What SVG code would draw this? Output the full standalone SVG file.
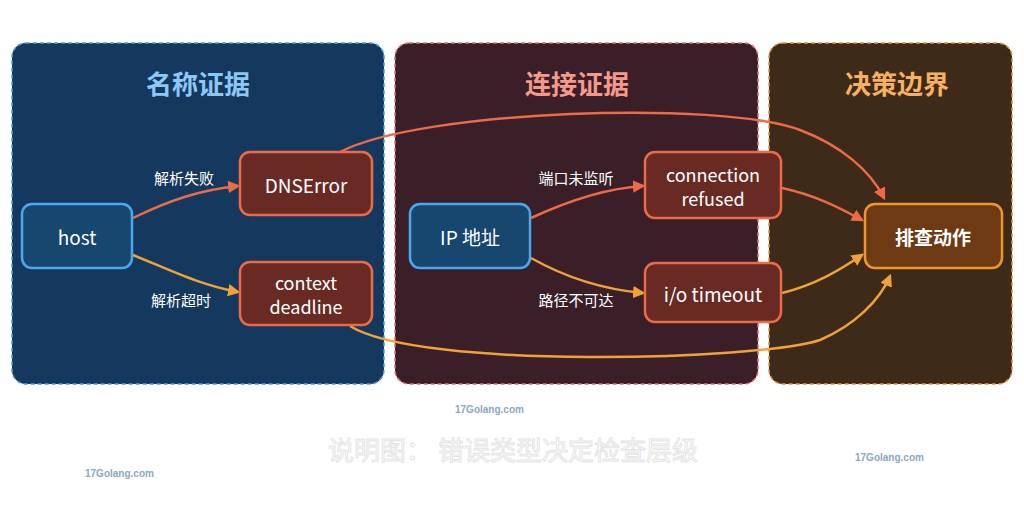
<svg xmlns="http://www.w3.org/2000/svg" width="1024" height="512" viewBox="0 0 1024 512">
<style>
text{font-family:"Noto Sans CJK SC","Noto Sans",sans-serif;text-anchor:middle;dominant-baseline:central}
.t{font-size:26px;font-weight:bold}
.n{font-size:19px;fill:#fff}
.n2{font-size:18px;fill:#fff}
.l{font-size:15px;fill:#fff}
.e{fill:none;stroke-width:2.5}
.r{stroke:#ec6a45}.o{stroke:#f0a238}
.wm{font-family:"Liberation Sans",sans-serif;font-size:10px;font-weight:bold;fill:#8aa8c0;text-anchor:start}
</style>
<defs>
<marker id="ar" viewBox="0 0 10 10" refX="8" refY="5" markerWidth="5" markerHeight="5" orient="auto"><path d="M0,0L10,5L0,10z" fill="#ec6a45"/></marker>
<marker id="ao" viewBox="0 0 10 10" refX="8" refY="5" markerWidth="5" markerHeight="5" orient="auto"><path d="M0,0L10,5L0,10z" fill="#f0a238"/></marker>
</defs>
<rect width="1024" height="512" fill="#fff"/>
<g id="panel-name"><rect x="12" y="43" width="372" height="341" rx="14" fill="#14385e" stroke="#4a9ee0" stroke-width="1.5" stroke-dasharray="4 3"/><text class="t" x="198" y="82" fill="#8cc8f5">名称证据</text></g>
<g id="panel-conn"><rect x="395" y="43" width="363" height="341" rx="14" fill="#3a1e28" stroke="#e07070" stroke-width="1.5" stroke-dasharray="4 3"/><text class="t" x="577" y="82" fill="#f59a8a">连接证据</text></g>
<g id="panel-decide"><rect x="769" y="43" width="243" height="341" rx="14" fill="#3e2a18" stroke="#e89040" stroke-width="1.5" stroke-dasharray="4 3"/><text class="t" x="897" y="82" fill="#f5b060">决策边界</text></g>
<g id="edges">
<path class="e r" d="M133,218 C170,200 200,190 238,186" marker-end="url(#ar)"/>
<path class="e o" d="M133,255 C170,270 200,285 238,292" marker-end="url(#ao)"/>
<path class="e r" d="M340,152 C420,110 720,100 800,130 C840,145 870,170 884,198" marker-end="url(#ar)"/>
<path class="e o" d="M350,326 C420,370 760,360 820,340 C855,325 880,300 890,276" marker-end="url(#ao)"/>
<path class="e r" d="M531,218 C570,200 610,188 643,186" marker-end="url(#ar)"/>
<path class="e o" d="M531,258 C570,280 610,290 643,293" marker-end="url(#ao)"/>
<path class="e r" d="M782,188 C815,195 840,208 862,220" marker-end="url(#ar)"/>
<path class="e o" d="M782,293 C815,285 840,270 862,255" marker-end="url(#ao)"/>
<text class="l" x="184" y="177">解析失败</text>
<text class="l" x="181" y="299">解析超时</text>
<text class="l" x="576" y="177">端口未监听</text>
<text class="l" x="576" y="299">路径不可达</text>
</g>
<g id="host"><rect x="22" y="204" width="110" height="64" rx="10" fill="#17466f" stroke="#4aa8ee" stroke-width="2.5"/><text class="n" x="77" y="236">host</text></g>
<g id="dns"><rect x="240" y="152" width="132" height="63" rx="10" fill="#6a2a24" stroke="#ec6a45" stroke-width="2.5"/><text class="n" x="306" y="184">DNSError</text></g>
<g id="ctx"><rect x="240" y="262" width="132" height="63" rx="10" fill="#6a2a24" stroke="#ec6a45" stroke-width="2.5"/><text class="n2" x="306" y="282">context</text><text class="n2" x="306" y="306">deadline</text></g>
<g id="ip"><rect x="410" y="204" width="120" height="64" rx="10" fill="#17466f" stroke="#4aa8ee" stroke-width="2.5"/><text class="n" x="470" y="236">IP 地址</text></g>
<g id="refused"><rect x="645" y="152" width="136" height="66" rx="10" fill="#6a2a24" stroke="#ec6a45" stroke-width="2.5"/><text class="n2" x="713" y="174">connection</text><text class="n2" x="713" y="198">refused</text></g>
<g id="timeout"><rect x="645" y="263" width="136" height="59" rx="10" fill="#6a2a24" stroke="#ec6a45" stroke-width="2.5"/><text class="n" x="713" y="293">i/o timeout</text></g>
<g id="action"><rect x="865" y="204" width="137" height="64" rx="10" fill="#6e3a14" stroke="#f0962e" stroke-width="2.5"/><text class="n" x="933" y="236" font-weight="bold">排查动作</text></g>
<text x="513" y="448" font-size="26" fill="#fff" stroke="#e4e4e4" stroke-width="1">说明图： 错误类型决定检查层级</text>
<text class="wm" x="455" y="409">17Golang.com</text>
<text class="wm" x="85" y="473">17Golang.com</text>
<text class="wm" x="855" y="457">17Golang.com</text>
</svg>
